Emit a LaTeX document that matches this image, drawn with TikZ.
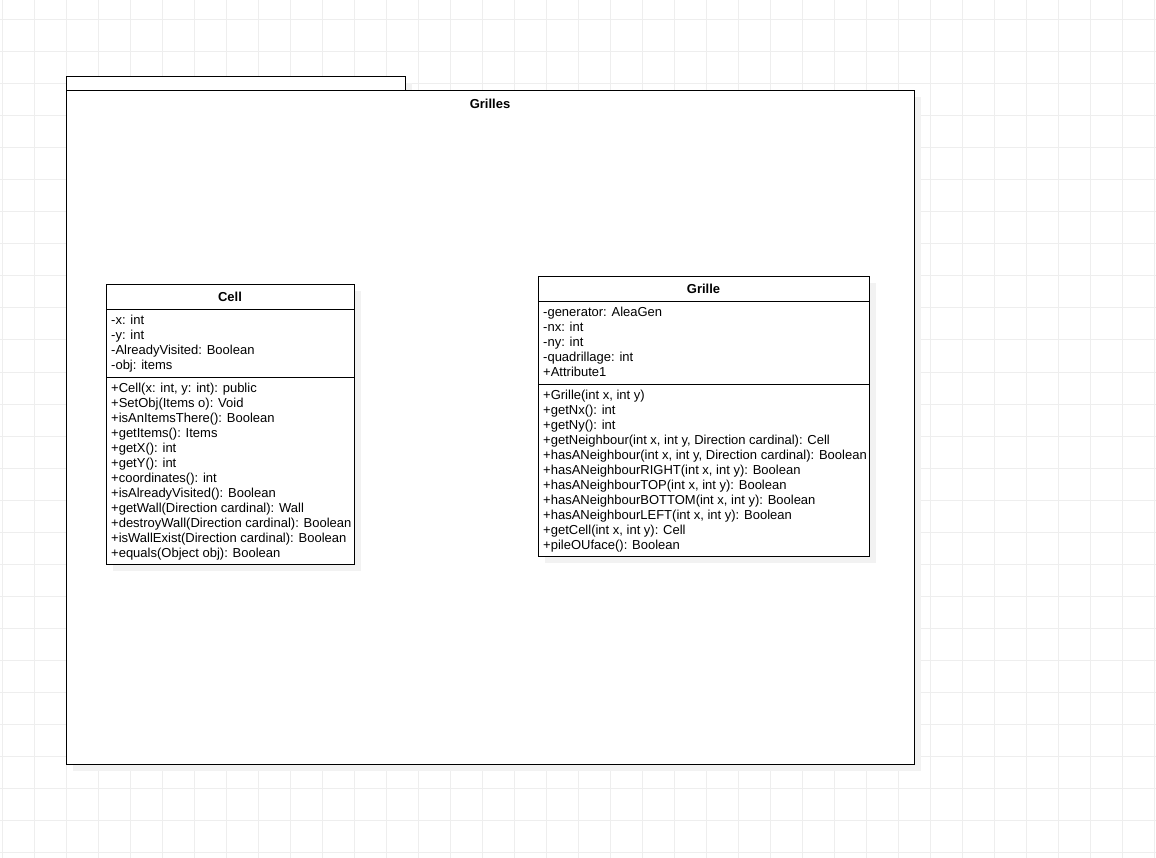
\documentclass[tikz,border=0pt]{standalone}
\usepackage{fontspec}
\setmainfont{Liberation Sans}
\definecolor{gridc}{HTML}{EEEEEE}
\definecolor{shadowc}{HTML}{F2F2F2}
\begin{document}
\begin{tikzpicture}[x=1pt,y=-1pt,
  gridline/.style={draw=gridc, line width=1pt},
  shadowfill/.style={fill=shadowc, draw=none},
  umlbox/.style={draw=black, fill=white, line width=0.9pt},
  umlsep/.style={draw=black, line width=0.9pt},
  row/.style={anchor=base west, inner sep=0pt, font=\fontsize{13}{15}\selectfont},
  umltitle/.style={anchor=base, inner sep=0pt, font=\fontsize{13}{15}\selectfont\bfseries}]
\useasboundingbox (0,0) rectangle (1156,858);
\fill[white] (0,0) rectangle (1156,858);
% grid
\foreach \k in {0,...,36} \draw[gridline] ({2.5+32*\k},0) -- ({2.5+32*\k},858);
\foreach \k in {0,...,26} \draw[gridline] (0,{20+32*\k}) -- (1156,{20+32*\k});
% package shadow
\fill[shadowfill] (73,83) rectangle (412,97);
\fill[shadowfill] (73,97) rectangle (921,771);
% package
\draw[umlbox] (66,76) rectangle (405,90);
\draw[umlbox] (66,90) rectangle (914,764);
\node[umltitle] (pkgtitle) at (490,108.5) {Grilles};
% Cell
\fill[shadowfill] (113,291) rectangle (361,571);
\draw[umlbox] (106,284) rectangle (354,564);
\draw[umlsep] (106,309) -- (354,309);
\draw[umlsep] (106,377) -- (354,377);
\node[umltitle] (celltitle) at (230,302) {Cell};
\foreach \t [count=\i from 0] in {{-x: int},{-y: int},{-AlreadyVisited: Boolean},{-obj: items}}
  \node[row] (cellattr\i) at (111,{324.5+15*\i}) {\t};
\foreach \t [count=\i from 0] in {{+Cell(x: int, y: int): public},{+SetObj(Items o): Void},{+isAnItemsThere(): Boolean},{+getItems(): Items},{+getX(): int},{+getY(): int},{+coordinates(): int},{+isAlreadyVisited(): Boolean},{+getWall(Direction cardinal): Wall},{+destroyWall(Direction cardinal): Boolean},{+isWallExist(Direction cardinal): Boolean},{+equals(Object obj): Boolean}}
  \node[row] (cellop\i) at (111,{392.5+15*\i}) {\t};
% Grille
\fill[shadowfill] (545,283) rectangle (876,563);
\draw[umlbox] (538,276) rectangle (869,556);
\draw[umlsep] (538,301) -- (869,301);
\draw[umlsep] (538,384) -- (869,384);
\node[umltitle] (grilletitle) at (703.5,294) {Grille};
\foreach \t [count=\i from 0] in {{-generator: AleaGen},{-nx: int},{-ny: int},{-quadrillage: int},{+Attribute1}}
  \node[row] (grilleattr\i) at (543,{316.5+15*\i}) {\t};
\foreach \t [count=\i from 0] in {{+Grille(int x, int y)},{+getNx(): int},{+getNy(): int},{+getNeighbour(int x, int y, Direction cardinal): Cell},{+hasANeighbour(int x, int y, Direction cardinal): Boolean},{+hasANeighbourRIGHT(int x, int y): Boolean},{+hasANeighbourTOP(int x, int y): Boolean},{+hasANeighbourBOTTOM(int x, int y): Boolean},{+hasANeighbourLEFT(int x, int y): Boolean},{+getCell(int x, int y): Cell},{+pileOUface(): Boolean}}
  \node[row] (grilleop\i) at (543,{399.5+15*\i}) {\t};
\end{tikzpicture}
\end{document}
